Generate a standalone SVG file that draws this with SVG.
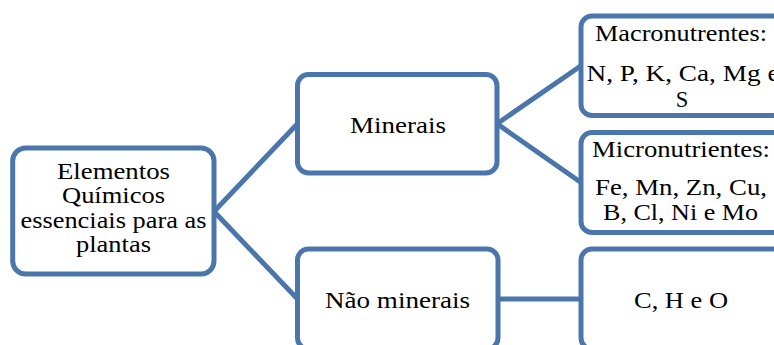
<svg xmlns="http://www.w3.org/2000/svg" width="774" height="345" viewBox="0 0 774 345">
<style>
.box{fill:#ffffff;stroke:#4a76ac;stroke-width:5}
.con{fill:none;stroke:#4a76ac;stroke-width:5}
.t{font-family:'Liberation Serif','Times New Roman',serif;font-size:22.5px;fill:#000000;text-anchor:middle}
</style>
<rect width="774" height="345" fill="#ffffff"/>
<g id="connectors">
<path class="con" d="M214,211.5 L297.5,123.75 M214,211.5 L297.5,299"/>
<path class="con" d="M497,123.75 L581,65.75 M497,123.75 L581,182.5"/>
<path class="con" d="M498,299 L581,299"/>
</g>
<g id="root">
<rect class="box" x="12.7" y="148" width="201.3" height="126" rx="13" ry="13"/>
<text class="t" x="113.5" y="178.5" textLength="113" lengthAdjust="spacingAndGlyphs">Elementos</text>
<text class="t" x="113.5" y="203" textLength="103" lengthAdjust="spacingAndGlyphs">Químicos</text>
<text class="t" x="113.5" y="228" textLength="186" lengthAdjust="spacingAndGlyphs">essenciais para as</text>
<text class="t" x="113.5" y="252" textLength="75" lengthAdjust="spacingAndGlyphs">plantas</text>
</g>
<g id="minerais">
<rect class="box" x="297.5" y="74.5" width="199.5" height="98.5" rx="11" ry="11"/>
<text class="t" x="398" y="132.7" textLength="96" lengthAdjust="spacingAndGlyphs">Minerais</text>
</g>
<g id="nao-minerais">
<rect class="box" x="297.5" y="249" width="200.5" height="100" rx="11" ry="11"/>
<text class="t" x="397.5" y="308.3" textLength="145" lengthAdjust="spacingAndGlyphs">Não minerais</text>
</g>
<g id="macronutrientes">
<rect class="box" x="581" y="16" width="205" height="99.5" rx="11" ry="11"/>
<text class="t" x="681" y="40.7" textLength="172" lengthAdjust="spacingAndGlyphs">Macronutrentes:</text>
<text class="t" x="683" y="81" textLength="193" lengthAdjust="spacingAndGlyphs">N, P, K, Ca, Mg e</text>
<text class="t" x="682" y="106.5">S</text>
</g>
<g id="micronutrientes">
<rect class="box" x="581" y="132.5" width="205" height="100" rx="11" ry="11"/>
<text class="t" x="681" y="157" textLength="178" lengthAdjust="spacingAndGlyphs">Micronutrientes:</text>
<text class="t" x="681" y="195" textLength="172" lengthAdjust="spacingAndGlyphs">Fe, Mn, Zn, Cu,</text>
<text class="t" x="680.5" y="220" textLength="155" lengthAdjust="spacingAndGlyphs">B, Cl, Ni e Mo</text>
</g>
<g id="cho">
<rect class="box" x="581" y="249" width="205" height="100" rx="11" ry="11"/>
<text class="t" x="681" y="308.3" textLength="94" lengthAdjust="spacingAndGlyphs">C, H e O</text>
</g>
</svg>
